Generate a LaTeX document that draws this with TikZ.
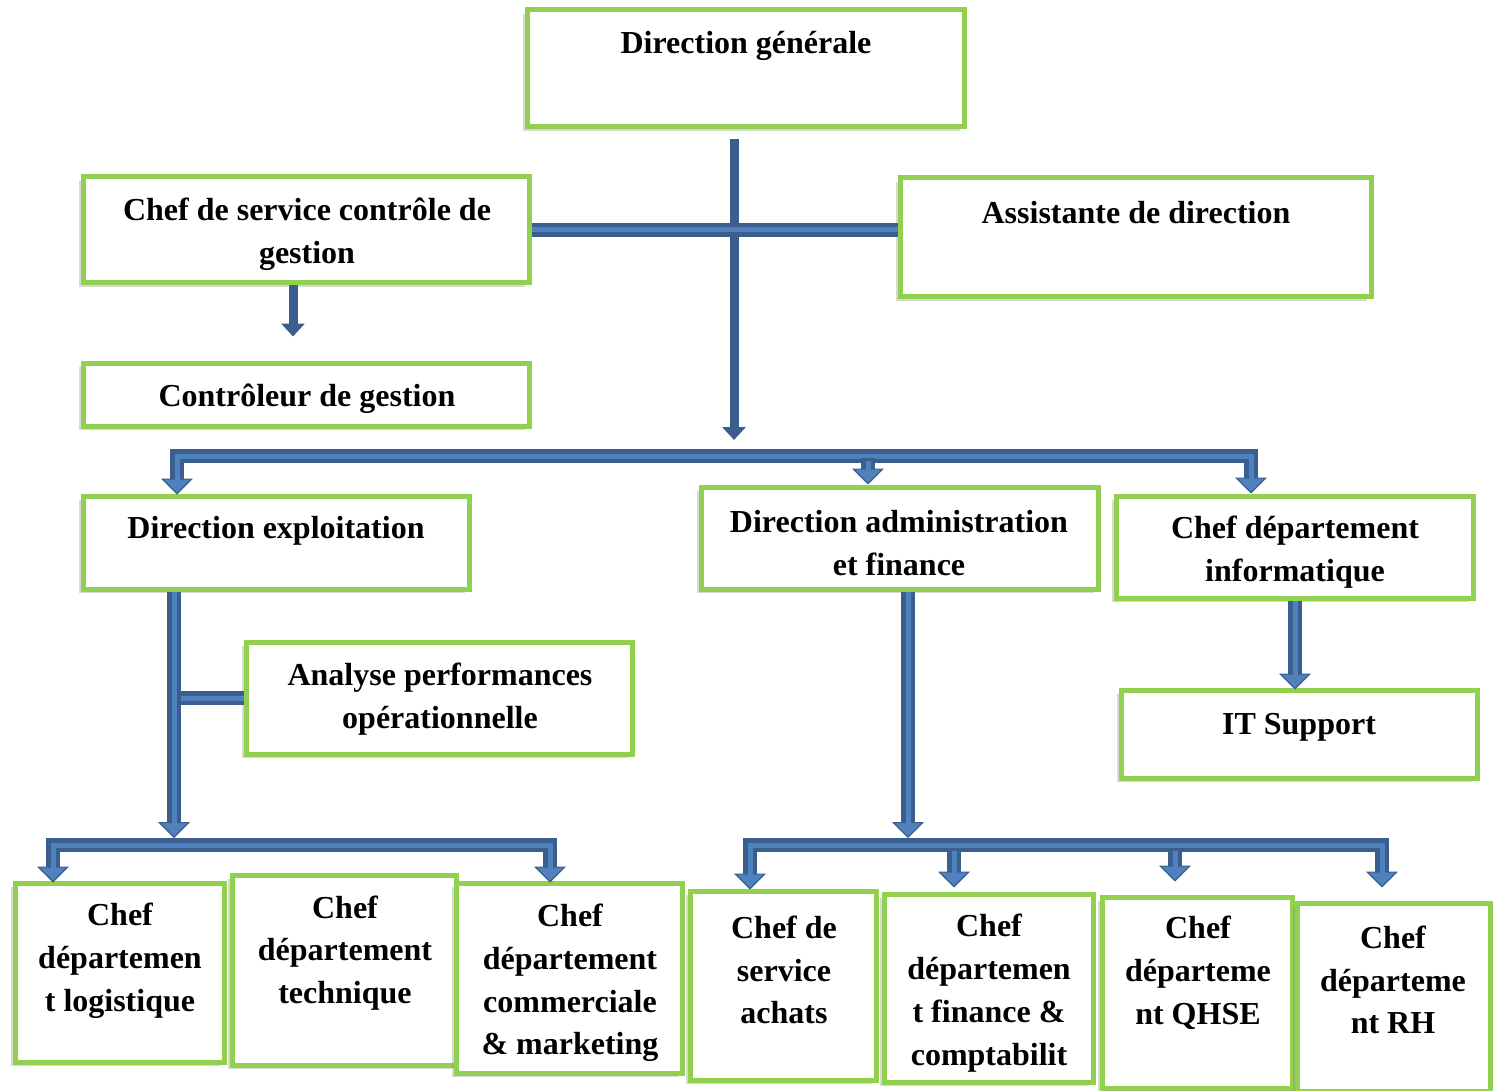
\documentclass[tikz,border=0pt]{standalone}
\usepackage{fontspec}
\setmainfont{Liberation Serif}
\usetikzlibrary{arrows.meta,shadows,fit,calc}
\definecolor{gr}{HTML}{92D050}
\definecolor{bdark}{HTML}{3A5E8E}
\definecolor{blight}{HTML}{4F81BD}
\begin{document}
\begin{tikzpicture}[x=0.5pt,y=-0.5pt,
  box/.style={draw=gr, line width=2.5pt, fill=white, inner sep=0pt,
    drop shadow={shadow xshift=-2pt,shadow yshift=-2pt,opacity=0.3}},
  txt/.style={font=\bfseries\fontsize{16}{21.4}\selectfont, align=center, inner sep=0pt},
  bo/.style={draw=bdark, line width=7pt, -{Triangle[width=16pt,length=8pt,line width=0.6pt,fill=blight]}},
  bob/.style={draw=bdark, line width=7pt, {Triangle[width=16pt,length=8pt,line width=0.6pt,fill=blight]}-{Triangle[width=16pt,length=8pt,line width=0.6pt,fill=blight]}},
  bon/.style={draw=bdark, line width=7pt},
  bi/.style={draw=blight, line width=2.5pt},
  so/.style={draw=bdark, line width=4.5pt, -{Triangle[width=11.5pt,length=6.5pt,fill=bdark]}}]
\fill[white] (0,0) rectangle (1499,1091);
\useasboundingbox (0,0) rectangle (1499,1091);
% boxes
\node[box, fit={(527,10) (964,127)}] (dg) {};
\node[box, fit={(83,177) (529,283)}] (cs) {};
\node[box, fit={(900,178) (1371,297)}] (ad) {};
\node[box, fit={(83,363) (529,426)}] (cg) {};
\node[box, fit={(83,496) (469,589)}] (de) {};
\node[box, fit={(701,487) (1098,589)}] (daf) {};
\node[box, fit={(1116,496) (1473,598)}] (ci) {};
\node[box, fit={(246,642) (632,754)}] (ap) {};
\node[box, fit={(1121,690) (1477,778)}] (it) {};
\node[box, fit={(15,883) (224,1062)}] (lo) {};
\node[box, fit={(232,875) (456,1065)}] (te) {};
\node[box, fit={(456,883) (682,1073)}] (co) {};
\node[box, fit={(690,891) (876,1080)}] (ac) {};
\node[box, fit={(884,894) (1093,1082)}] (fi) {};
\node[box, fit={(1102,897) (1292,1088)}] (qh) {};
\node[box, fit={(1297,903) (1490,1091)}] (rh) {};
% texts
\node[txt] (dgt) at (746,46) {Direction générale};
\node[txt] (cst) at (307,234) {Chef de service contrôle de\\gestion};
\node[txt] (adt) at (1136,213) {Assistante de direction};
\node[txt] (cgt) at (307,399) {Contrôleur de gestion};
\node[txt] (det) at (276,531) {Direction exploitation};
\node[txt] (daft) at (899,543) {Direction administration\\et finance};
\node[txt] (cit) at (1295,552) {Chef département\\informatique};
\node[txt] (apt) at (440,699) {Analyse performances\\opérationnelle};
\node[txt] (itt) at (1299,727) {IT Support};
\node[txt] (lot) at (120,961) {Chef\\départemen\\t logistique};
\node[txt] (tet) at (345,953) {Chef\\département\\technique};
\node[txt] (cot) at (570,983) {Chef\\département\\commerciale\\\& marketing};
\node[txt] (act) at (784,970) {Chef de\\service\\achats};
\node[txt] (fit) at (989,993) {Chef\\départemen\\t finance \&\\comptabilit};
\node[txt] (qht) at (1198,973) {Chef\\départeme\\nt QHSE};
\node[txt] (rht) at (1393,980) {Chef\\départeme\\nt RH};
% junction coordinates
\coordinate (j1) at (734,440);
\coordinate (j2) at (174,838);
\coordinate (j3) at (908,838);
% DG down (solid)
\draw[so] ($(dg.south)+(-11.5,10)$) -- (j1);
% CS -- AD bar
\draw[bon] (cs.east) -- (cs.east -| ad.west);
\draw[bi] (cs.east) -- (cs.east -| ad.west);
% CS -> CG (solid)
\draw[so] ($(cs.south)+(-13,0)$) -- ($(cg.north)+(-13,-24)$);
% bus 1
\draw[bob] ($(de.north)+(-99,1)$) -- (177,456) -- (1251,456) [rounded corners=5pt] -- ($(ci.north)+(-43.5,0)$);
\draw[bi,shorten <=4pt,shorten >=4pt] ($(de.north)+(-99,1)$) -- (177,456) -- (1251,456) [rounded corners=5pt] -- ($(ci.north)+(-43.5,0)$);
\draw[bo] (868,458) -- ($(daf.north)+(-31.5,0)$);
\draw[bi,shorten >=4pt] (868,461) -- ($(daf.north)+(-31.5,0)$);
% DE branch and down
\draw[bon] (ap.west -| j2) -- (ap.west);
\draw[bi] (ap.west -| j2) -- (ap.west);
\draw[bo] ($(de.south)+(-102,0)$) -- (j2);
\draw[bi,shorten >=4pt] ($(de.south)+(-102,0)$) -- (j2);
% bus 2
\draw[bob] ($(lo.north)+(-66.5,2)$) -- (53,845) -- (550,845) [rounded corners=5pt] -- ($(co.north)+(-19,2)$);
\draw[bi,shorten <=4pt,shorten >=4pt] ($(lo.north)+(-66.5,2)$) -- (53,845) -- (550,845) [rounded corners=5pt] -- ($(co.north)+(-19,2)$);
% DAF down
\draw[bo] ($(daf.south)+(8.5,0)$) -- (j3);
\draw[bi,shorten >=4pt] ($(daf.south)+(8.5,0)$) -- (j3);
% bus 3
\draw[bob] ($(ac.north)+(-33,1)$) -- (750,845) -- (1382,845) [rounded corners=5pt] -- ($(rh.north)+(-11.5,-13)$);
\draw[bi,shorten <=4pt,shorten >=4pt] ($(ac.north)+(-33,1)$) -- (750,845) -- (1382,845) [rounded corners=5pt] -- ($(rh.north)+(-11.5,-13)$);
\draw[bo] (954,848) -- ($(fi.north)+(-34.5,-4)$);
\draw[bi,shorten >=4pt] (954,851) -- ($(fi.north)+(-34.5,-4)$);
\draw[bo] (1175,848) -- ($(qh.north)+(-22,-13)$);
\draw[bi,shorten >=4pt] (1175,851) -- ($(qh.north)+(-22,-13)$);
% CI -> IT
\draw[bo] (ci.south -| 1295,0) -- ($(it.north)+(-4,2)$);
\draw[bi,shorten >=4pt] (ci.south -| 1295,0) -- ($(it.north)+(-4,2)$);
\end{tikzpicture}
\end{document}
